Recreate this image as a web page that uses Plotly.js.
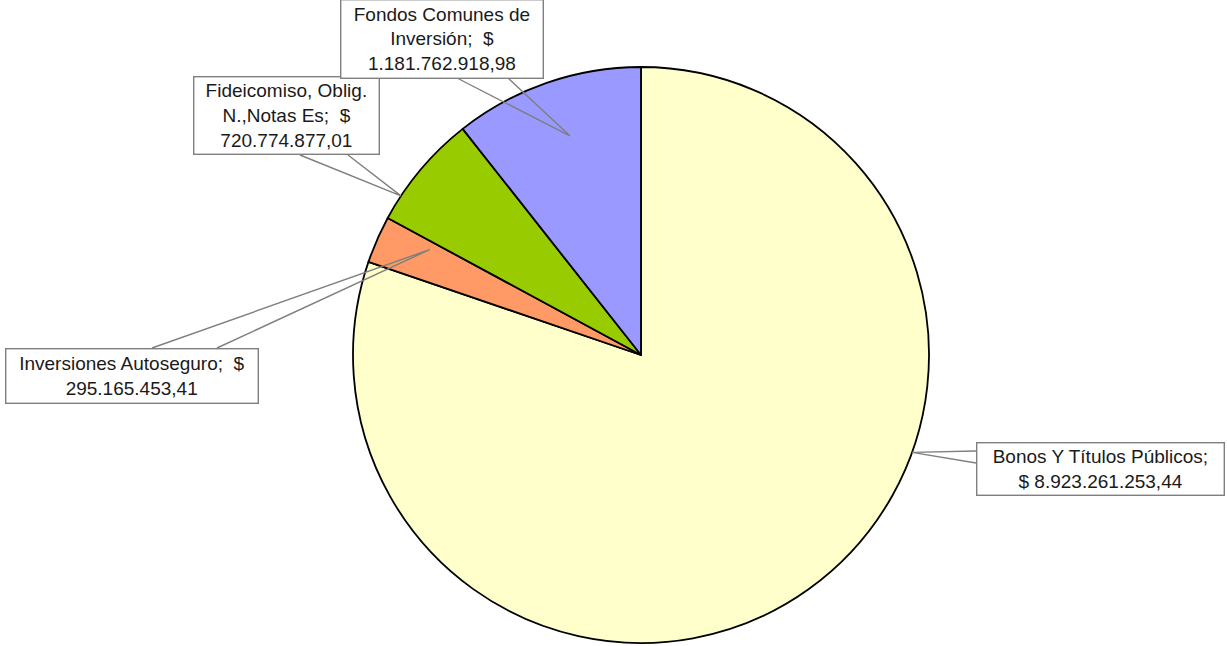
<!DOCTYPE html>
<html>
<head>
<meta charset="utf-8">
<script src="https://cdn.plot.ly/plotly-3.0.1.min.js"></script>
<style>html,body{margin:0;padding:0;background:#fff;}#chart{width:1227px;height:646px;}</style>
</head>
<body>
<div id="chart"></div>
<script>
// ---- data ----
const categories = ['Bonos Y Títulos Públicos', 'Inversiones Autoseguro', 'Fideicomiso, Oblig. N.,Notas Es', 'Fondos Comunes de Inversión'];
const values = [8923261253.44, 295165453.41, 720774877.01, 1181762918.98];
const labelPrefix = ['Bonos Y Títulos Públicos;<br>$ ', 'Inversiones Autoseguro;\u00a0 $<br>', 'Fideicomiso, Oblig.<br>N.,Notas Es;\u00a0 $<br>', 'Fondos Comunes de<br>Inversión;\u00a0 $<br>'];
const colors = ['#FFFFCC', '#FF9966', '#99CC00', '#9999FF'];

// ---- layout params ----
const W = 1227, H = 646;
const domX = [353 / W, 929 / W];
const domY = [1 - 643 / H, 1 - 67 / H];
// label boxes in pixels [left, top, right, bottom]
const boxes = [[976, 443, 1224, 496], [5, 348, 258, 403], [193, 77, 379, 155], [340, -1, 543, 78]];
// leader base points (pixels)
const bases = [[[976, 451], [976, 463]], [[152, 348], [217, 348]], [[300, 155], [348, 155]], [[457, 78], [508, 78]]];
// leader tip: fraction across slice, fraction of radius
const tipFrac = [0.38, 0.8, 0.22, 0.53];
const tipRad = [1.0, 0.82, 1.0, 0.8];

function fmt(v) {
  const s = v.toFixed(2);
  let [i, d] = s.split('.');
  i = i.replace(/\B(?=(\d{3})+(?!\d))/g, '.');
  return i + ',' + d;
}

const px = x => x / W;
const py = y => 1 - y / H;

const cx = W * (domX[0] + domX[1]) / 2;
const cy = H * (1 - (domY[0] + domY[1]) / 2);
const R = Math.min(W * (domX[1] - domX[0]), H * (domY[1] - domY[0])) / 2;
const total = values.reduce((a, b) => a + b, 0);

const annotations = [];
const shapes = [];
let cum = 0;
values.forEach((v, i) => {
  const sweep = v / total * 360;
  const a = (cum + tipFrac[i] * sweep) * Math.PI / 180;
  cum += sweep;
  const r = tipRad[i] * R;
  const tx = cx + r * Math.sin(a), ty = cy - r * Math.cos(a);
  const b = bases[i];
  shapes.push({
    type: 'path', xref: 'paper', yref: 'paper',
    path: `M ${px(b[0][0])} ${py(b[0][1])} L ${px(tx)} ${py(ty)} L ${px(b[1][0])} ${py(b[1][1])}`,
    line: {color: '#7f7f7f', width: 1.4}, layer: 'above'
  });
  const bx = boxes[i];
  annotations.push({
    xref: 'paper', yref: 'paper',
    x: px((bx[0] + bx[2]) / 2), y: py((bx[1] + bx[3]) / 2),
    xanchor: 'center', yanchor: 'middle',
    width: bx[2] - bx[0] - 4, height: bx[3] - bx[1] - 4,
    text: labelPrefix[i] + fmt(v),
    showarrow: false, align: 'center', valign: 'middle',
    bgcolor: '#ffffff', bordercolor: '#7f7f7f', borderwidth: 1.4, borderpad: 1,
    font: {family: 'Liberation Sans, Arial, sans-serif', size: 19, color: '#1a1a1a'}
  });
});

const trace = {
  type: 'pie', labels: categories, values: values, sort: false,
  direction: 'clockwise', rotation: 0,
  marker: {colors: colors, line: {color: '#000000', width: 1.8}},
  textinfo: 'none', hoverinfo: 'none', showlegend: false,
  domain: {x: domX, y: domY}
};

Plotly.newPlot('chart', [trace], {
  width: W, height: H, margin: {l: 0, r: 0, t: 0, b: 0},
  paper_bgcolor: '#ffffff', showlegend: false,
  annotations: annotations, shapes: shapes
}, {staticPlot: true});
</script>
</body>
</html>
